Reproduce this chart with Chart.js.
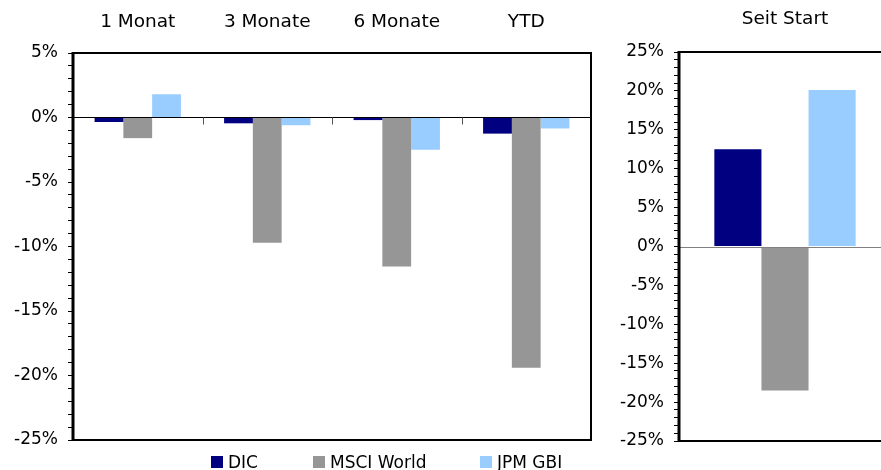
<!DOCTYPE html>
<html>
<head>
<meta charset="utf-8">
<script src="https://cdn.jsdelivr.net/npm/chart.js@4/dist/chart.umd.min.js"></script>
<style>
  html, body { margin: 0; padding: 0; background: #fff; overflow: hidden; width: 881px; height: 470px; }
  #wrap { position: relative; width: 881px; height: 470px; overflow: hidden; }
  #leftBox { position: absolute; left: 0; top: 0; width: 600px; height: 455px; }
  #rightBox { position: absolute; left: 600px; top: 0; width: 300px; height: 456px; }
  .leg { position: absolute; top: 454px; font-family: 'DejaVu Sans', sans-serif; font-size: 17px; line-height: 17px; color: #000; white-space: nowrap; }
  .sw { position: absolute; top: 456px; width: 12px; height: 12px; }
</style>
</head>
<body>
<div id="wrap">
  <div id="leftBox"><canvas id="left"></canvas></div>
  <div id="rightBox"><canvas id="right"></canvas></div>
  <div id="legend"></div>
</div>
<script>
// ---- data ----
const periodLabels = ['1 Monat', '3 Monate', '6 Monate', 'YTD'];
const startLabels = ['Seit Start'];
const seriesNames = ['DIC', 'MSCI World', 'JPM GBI'];
const dicPeriods = [-0.35, -0.45, -0.2, -1.25];
const msciPeriods = [-1.6, -9.7, -11.55, -19.4];
const jpmPeriods = [1.8, -0.6, -2.5, -0.85];
const dicStart = [12.5];
const msciStart = [-18.5];
const jpmStart = [20.1];
const leftTicks = { min: -25, max: 5 };
const rightTicks = { min: -25, max: 25 };

const colors = ['#000080', '#969696', '#99CCFF'];
const FONT = "'DejaVu Sans', sans-serif";
Chart.defaults.color = '#000';
Chart.defaults.font.family = FONT;

function framePlugin(zeroColor) {
  return {
    id: 'frame',
    afterDatasetsDraw(chart) {
      const ctx = chart.ctx, a = chart.chartArea;
      const y = chart.scales.y, x = chart.scales.x;
      const y0 = Math.round(y.getPixelForValue(0)) + 0.5;
      ctx.save();
      // zero line
      ctx.strokeStyle = zeroColor;
      ctx.lineWidth = 1;
      ctx.beginPath();
      ctx.moveTo(a.left, y0);
      ctx.lineTo(a.right, y0);
      ctx.stroke();
      // category boundary ticks on zero line
      ctx.strokeStyle = '#555';
      const n = chart.data.labels.length;
      for (let i = 1; i < n; i++) {
        const xb = Math.round((x.getPixelForValue(i - 1) + x.getPixelForValue(i)) / 2) + 0.5;
        ctx.beginPath();
        ctx.moveTo(xb, y0);
        ctx.lineTo(xb, y0 + 7);
        ctx.stroke();
      }
      // frame
      ctx.strokeStyle = '#000';
      ctx.lineWidth = 2;
      ctx.strokeRect(a.left, a.top, a.right - a.left, a.bottom - a.top);
      ctx.lineWidth = 3;
      ctx.beginPath();
      ctx.moveTo(a.left, a.top - 1);
      ctx.lineTo(a.left, a.bottom + 1);
      ctx.stroke();
      ctx.restore();
    }
  };
}

function makeChart(id, labels, data, range, topH, leftW, padRight, titlePad, zeroColor) {
  return new Chart(document.getElementById(id), {
    type: 'bar',
    data: {
      labels: labels,
      datasets: seriesNames.map((n, i) => ({
        label: n,
        data: data[i],
        backgroundColor: colors[i],
        borderWidth: 0,
        categoryPercentage: 2 / 3,
        barPercentage: 1.0
      }))
    },
    options: {
      responsive: true,
      maintainAspectRatio: false,
      animation: false,
      layout: { padding: { left: 0, right: padRight, top: 0, bottom: 15 } },
      plugins: { legend: { display: false }, tooltip: { enabled: false } },
      scales: {
        x: {
          position: 'top',
          grid: { display: false, drawTicks: false },
          border: { display: false },
          ticks: { font: { size: 18.5, family: FONT }, color: '#000', padding: titlePad, maxRotation: 0, autoSkip: false },
          afterFit: (s) => { s.height = topH; s.paddingLeft = 0; s.paddingRight = 0; }
        },
        y: {
          min: range.min, max: range.max,
          grid: { drawOnChartArea: false, drawTicks: true, tickLength: 5, color: '#000', lineWidth: 1 },
          border: { display: false },
          ticks: {
            stepSize: 1, autoSkip: false, maxTicksLimit: 1000, padding: 10,
            font: { size: 17, family: FONT }, color: '#000',
            callback: (v) => (v % 5 === 0 ? v + '%' : '')
          },
          afterFit: (s) => { s.width = leftW; s.paddingTop = 0; s.paddingBottom = 0; }
        }
      }
    },
    plugins: [framePlugin(zeroColor)]
  });
}

makeChart('left', periodLabels, [dicPeriods, msciPeriods, jpmPeriods], leftTicks, 53, 73, 9, 20, '#000');
makeChart('right', startLabels, [dicStart, msciStart, jpmStart], rightTicks, 52, 79, 9, 22, '#808080');

// legend
const legPos = [[211, 228], [313, 330], [480, 497]];
const legend = document.getElementById('legend');
seriesNames.forEach((n, i) => {
  const sw = document.createElement('div');
  sw.className = 'sw';
  sw.style.left = legPos[i][0] + 'px';
  sw.style.background = colors[i];
  legend.appendChild(sw);
  const t = document.createElement('div');
  t.className = 'leg';
  t.style.left = legPos[i][1] + 'px';
  t.textContent = n;
  legend.appendChild(t);
});
</script>
</body>
</html>
